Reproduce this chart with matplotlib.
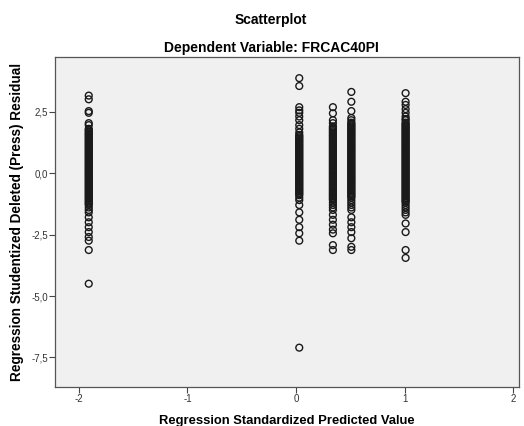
import numpy as np
import matplotlib.pyplot as plt

# predicted value of each column of points
col_x = [-1.91, 0.03, 0.34, 0.51, 1.01]

# sparse residuals (tails), one list per column
tail_1 = [3.15, 3.0, 2.52, 2.45, 2.03, 1.95, -1.8, -2.0, -2.2, -2.4, -2.6,
          -2.75, -3.13, -4.5]
tail_2 = [3.86, 3.54, 2.68, 2.55, 2.45, 2.3, 2.15, 1.95, 1.8, 1.65, -1.3,
          -1.6, -1.9, -2.2, -2.45, -2.75, -7.1]
tail_3 = [2.68, 2.43, 2.15, 2.03, -1.5, -1.7, -1.9, -2.1, -2.3, -2.45, -2.93,
          -3.13]
tail_4 = [3.3, 2.9, 2.52, -1.8, -2.0, -2.2, -2.4, -2.65, -3.0, -3.13]
tail_5 = [3.25, 2.9, 2.77, 2.6, 2.45, -2.05, -2.4, -3.13, -3.45]

# dense cores, where the circles overlap into a solid bar
core_1 = [1.8, 1.75, 1.7, 1.65, 1.6, 1.55, 1.5, 1.45, 1.4, 1.35, 1.3, 1.25,
          1.2, 1.15, 1.1, 1.05, 1.0, 0.95, 0.9, 0.85, 0.8, 0.75, 0.7, 0.65,
          0.6, 0.55, 0.5, 0.45, 0.4, 0.35, 0.3, 0.25, 0.2, 0.15, 0.1, 0.05,
          0.0, -0.05, -0.1, -0.15, -0.2, -0.25, -0.3, -0.35, -0.4, -0.45,
          -0.5, -0.55, -0.6, -0.65, -0.7, -0.75, -0.8, -0.85, -0.9, -0.95,
          -1.0, -1.05, -1.1, -1.15, -1.2, -1.25, -1.3, -1.4, -1.5, -1.6]
core_2 = [1.55, 1.5, 1.45, 1.4, 1.35, 1.3, 1.25, 1.2, 1.15, 1.1, 1.05, 1.0,
          0.95, 0.9, 0.85, 0.8, 0.75, 0.7, 0.65, 0.6, 0.55, 0.5, 0.45, 0.4,
          0.35, 0.3, 0.25, 0.2, 0.15, 0.1, 0.05, 0.0, -0.05, -0.1, -0.15,
          -0.2, -0.25, -0.3, -0.35, -0.4, -0.45, -0.5, -0.55, -0.6, -0.65,
          -0.7, -0.75, -0.8, -0.85, -0.9, -1.0, -1.1]
core_3 = [1.9, 1.85, 1.8, 1.75, 1.7, 1.65, 1.6, 1.55, 1.5, 1.45, 1.4, 1.35,
          1.3, 1.25, 1.2, 1.15, 1.1, 1.05, 1.0, 0.95, 0.9, 0.85, 0.8, 0.75,
          0.7, 0.65, 0.6, 0.55, 0.5, 0.45, 0.4, 0.35, 0.3, 0.25, 0.2, 0.15,
          0.1, 0.05, 0.0, -0.05, -0.1, -0.15, -0.2, -0.25, -0.3, -0.35, -0.4,
          -0.45, -0.5, -0.55, -0.6, -0.65, -0.7, -0.75, -0.8, -0.85, -0.9,
          -0.95, -1.0, -1.05, -1.1, -1.2, -1.3, -1.4]
core_4 = [2.24, 2.15, 2.05, 2.0, 1.95, 1.9, 1.85, 1.8, 1.75, 1.7, 1.65, 1.6,
          1.55, 1.5, 1.45, 1.4, 1.35, 1.3, 1.25, 1.2, 1.15, 1.1, 1.05, 1.0,
          0.95, 0.9, 0.85, 0.8, 0.75, 0.7, 0.65, 0.6, 0.55, 0.5, 0.45, 0.4,
          0.35, 0.3, 0.25, 0.2, 0.15, 0.1, 0.05, 0.0, -0.05, -0.1, -0.15,
          -0.2, -0.25, -0.3, -0.35, -0.4, -0.45, -0.5, -0.55, -0.6, -0.65,
          -0.7, -0.75, -0.8, -0.85, -0.9, -0.95, -1.0, -1.1, -1.2, -1.3,
          -1.4, -1.5]
core_5 = [2.3, 2.2, 2.15, 2.05, 2.0, 1.95, 1.9, 1.85, 1.8, 1.75, 1.7, 1.65,
          1.6, 1.55, 1.5, 1.45, 1.4, 1.35, 1.3, 1.25, 1.2, 1.15, 1.1, 1.05,
          1.0, 0.95, 0.9, 0.85, 0.8, 0.75, 0.7, 0.65, 0.6, 0.55, 0.5, 0.45,
          0.4, 0.35, 0.3, 0.25, 0.2, 0.15, 0.1, 0.05, 0.0, -0.05, -0.1, -0.15,
          -0.2, -0.25, -0.3, -0.35, -0.4, -0.45, -0.5, -0.55, -0.6, -0.65,
          -0.7, -0.75, -0.8, -0.85, -0.9, -0.95, -1.0, -1.05, -1.1, -1.15,
          -1.2, -1.3, -1.4, -1.5, -1.6, -1.7]
residuals = [tail_1 + core_1, tail_2 + core_2, tail_3 + core_3,
             tail_4 + core_4, tail_5 + core_5]

x_ticks = [-2, -1, 0, 1, 2]
y_ticks = [2.5, 0.0, -2.5, -5.0, -7.5]
y_tick_labels = ['2,5', '0,0', '-2,5', '-5,0', '-7,5']

plt.rcParams['font.family'] = ['Liberation Sans', 'DejaVu Sans']

fig = plt.figure(figsize=(5.24, 4.26), dpi=100)
ax = fig.add_axes([55/524, 1 - 387/426, 464/524, 330/426])
ax.set_facecolor('#f0f0f0')

for xv, rv in zip(col_x, residuals):
    ax.scatter(np.full(len(rv), xv), rv, s=24, facecolors='none',
               edgecolors='#1a1a1a', linewidths=1.0)

ax.set_xlim(-2.221, 2.055)
ax.set_ylim(-8.70, 4.72)
ax.set_xticks(x_ticks)
ax.set_xticklabels([str(t) for t in x_ticks])
ax.set_yticks(y_ticks)
ax.set_yticklabels(y_tick_labels)
ax.tick_params(length=4, width=0.8, color='#444444', labelsize=7,
               labelcolor='#333333', pad=1)
for sp in ax.spines.values():
    sp.set_color('#555555')
    sp.set_linewidth(0.9)

ax.set_xlabel('Regression Standardized Predicted Value', fontsize=9.4,
              fontweight='bold', labelpad=8)
ax.set_ylabel('Regression Studentized Deleted (Press) Residual', fontsize=9.8,
              fontweight='bold', labelpad=5)

fig.text(0.517, 1 - 20/426, 'Scatterplot', ha='center', va='center',
         fontsize=10, fontweight='bold')
fig.text(0.517, 1 - 48/426, 'Dependent Variable: FRCAC40PI', ha='center',
         va='center', fontsize=10, fontweight='bold')

fig.savefig('out.png', dpi=100, facecolor='white')
